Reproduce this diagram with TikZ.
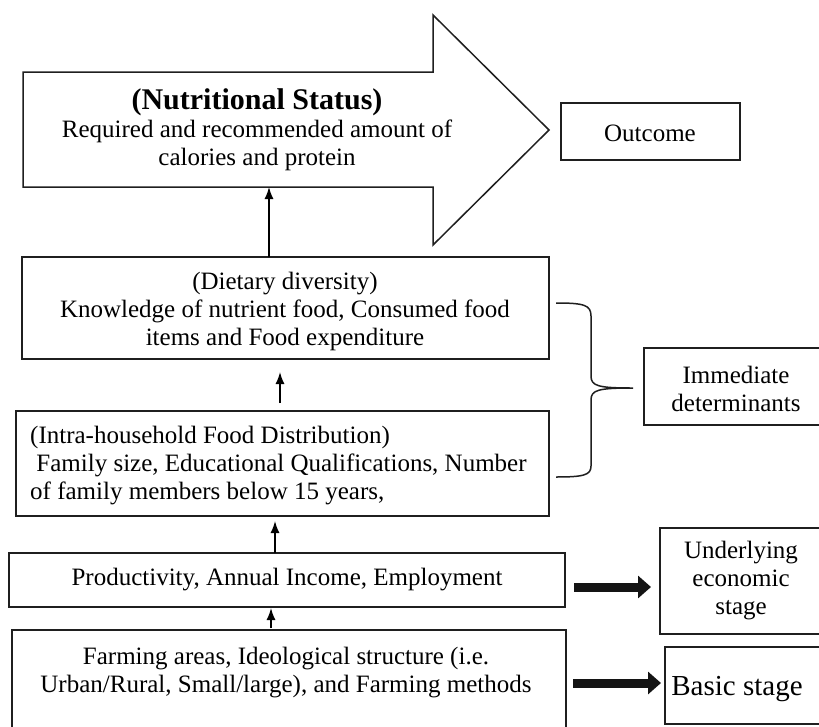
\documentclass[tikz,border=0pt]{standalone}
\usepackage{fontspec}
\setmainfont{Liberation Serif}
\usetikzlibrary{arrows.meta}
\begin{document}
\begin{tikzpicture}[x=1pt,y=-1pt,
  every node/.style={font=\fontsize{25}{28}\selectfont, inner sep=0pt},
  box/.style={draw=black!88, line width=1.5pt, fill=white},
  txt/.style={align=center},
  uparrow/.style={line width=1.5pt, -{Latex[length=12pt,width=9pt]}},
  fatarrow/.style={line width=9pt, -{Triangle[length=13pt,width=22pt]}, black!92}]
\useasboundingbox (0,0) rectangle (819,726);
\fill[white] (0,0) rectangle (819,726);

% big arrow (Nutritional Status)
\coordinate (bodytl) at (23,72);
\coordinate (bodybl) at (23,187);
\draw[line width=1.5pt, draw=black!88, line join=miter]
  (bodytl) -- (433,72) -- (433,15) -- (549,130) -- (433,245) -- (433,187) -- (bodybl) -- cycle;
\node[font=\fontsize{30}{30}\selectfont\bfseries] (nstitle) at (257,102) {(Nutritional Status)};
\node[txt] (ns) at (257,145) {Required and recommended amount of\\calories and protein};
\coordinate (nsbottom) at (269,187);

% outcome
\node[box, minimum width=179pt, minimum height=57pt] (outcome) at (650.5,131.5) {};
\node (outcometxt) at (650,133) {Outcome};

% dietary diversity
\node[box, minimum width=527pt, minimum height=102pt] (diet) at (285.5,308) {};
\node[txt] (diettxt) at (285,311) {(Dietary diversity)\\Knowledge of nutrient food, Consumed food\\items and Food expenditure};

% intra-household
\node[box, minimum width=533pt, minimum height=105pt] (intra) at (282.5,463.5) {};
\node[align=left, anchor=west] (intratxt) at (30,466) {(Intra-household Food Distribution)\\\ Family size, Educational Qualifications, Number\\of family members below 15 years,};

% productivity
\node[box, minimum width=556pt, minimum height=54pt] (prod) at (287,580) {};
\node (prodtxt) at (287,580) {Productivity, Annual Income, Employment};

% farming
\node[box, minimum width=554pt, minimum height=110pt, anchor=north west] (farm) at (11,629) {};
\node[txt] (farmtxt) at (286,673) {Farming areas, Ideological structure (i.e.\\Urban/Rural, Small/large), and Farming methods};

% right side labels
\node[box, minimum width=180pt, minimum height=77pt, anchor=north west] (immed) at (643,347) {};
\node[txt] (immedtxt) at (736,389) {Immediate\\determinants};
\node[box, minimum width=165pt, minimum height=106pt, anchor=north west] (under) at (659,527) {};
\node[txt] (undertxt) at (741,581) {Underlying\\economic\\stage};
\node[box, minimum width=160pt, minimum height=77pt, anchor=north west] (basic) at (664,646) {};
\node[font=\fontsize{29}{30}\selectfont] (basictxt) at (737,689) {Basic stage};

% vertical connectors
\coordinate (d1) at (269,257);
\draw[uparrow] (d1) -- (nsbottom);
\coordinate (i1) at (280,403);
\coordinate (i2) at (280,372);
\draw[uparrow] (i1) -- (i2);
\coordinate (p1) at (275,553);
\coordinate (p2) at (275,521);
\draw[uparrow] (p1) -- (p2);
\coordinate (f1) at (271,628);
\coordinate (f2) at (271,608);
\draw[uparrow] (f1) -- (f2);

% brace
\coordinate (bt) at (556,303);
\coordinate (bb) at (556,477);
\coordinate (btip) at (633,388);
\draw[line width=1.5pt, black!88]
  (bt) .. controls (584,303) and (591,305) .. (591,316) -- (591,376)
  .. controls (591,386) and (598,388) .. (btip)
  .. controls (598,388) and (591,390) .. (591,400) -- (591,466)
  .. controls (591,475) and (584,477) .. (bb);

% thick arrows
\coordinate (a1s) at (574,587);
\coordinate (a1e) at (651,587);
\draw[fatarrow] (a1s) -- (a1e);
\coordinate (a2s) at (573,683);
\coordinate (a2e) at (661,683);
\draw[fatarrow] (a2s) -- (a2e);
\end{tikzpicture}
\end{document}
